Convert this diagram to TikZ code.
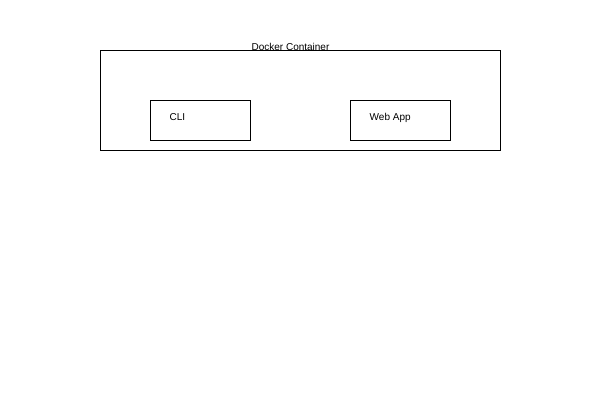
\documentclass[tikz,border=0pt]{standalone}
\usepackage{fontspec}
\setmainfont{Liberation Sans}
\usepackage{tikz}
\usetikzlibrary{calc,positioning}
\tikzset{
	box/.style={draw, line width=1pt, inner sep=0pt},
	boxtext/.style={anchor=base west, inner sep=0pt, font=\fontsize{10}{12}\selectfont}
}

\begin{document}
\begin{tikzpicture}[x=1pt, y=-1pt]
		\useasboundingbox (0,0) rectangle (600,400);

		\node[box, minimum width=400pt, minimum height=100pt] (container) at (300,100) {};
		\node[boxtext, anchor=base] (containertext) at (290.5,50) {Docker Container};

		\node[box, minimum width=100pt, minimum height=40pt] (cli) at (200,120) {};
		\node[boxtext] (clitext) at ($(cli.north west)+(20,21)$) {CLI};

		\node[box, minimum width=100pt, minimum height=40pt] (webapp) at (400,120) {};
		\node[boxtext] (webapptext) at ($(webapp.north west)+(20,21)$) {Web App};
	\end{tikzpicture}
\end{document}
